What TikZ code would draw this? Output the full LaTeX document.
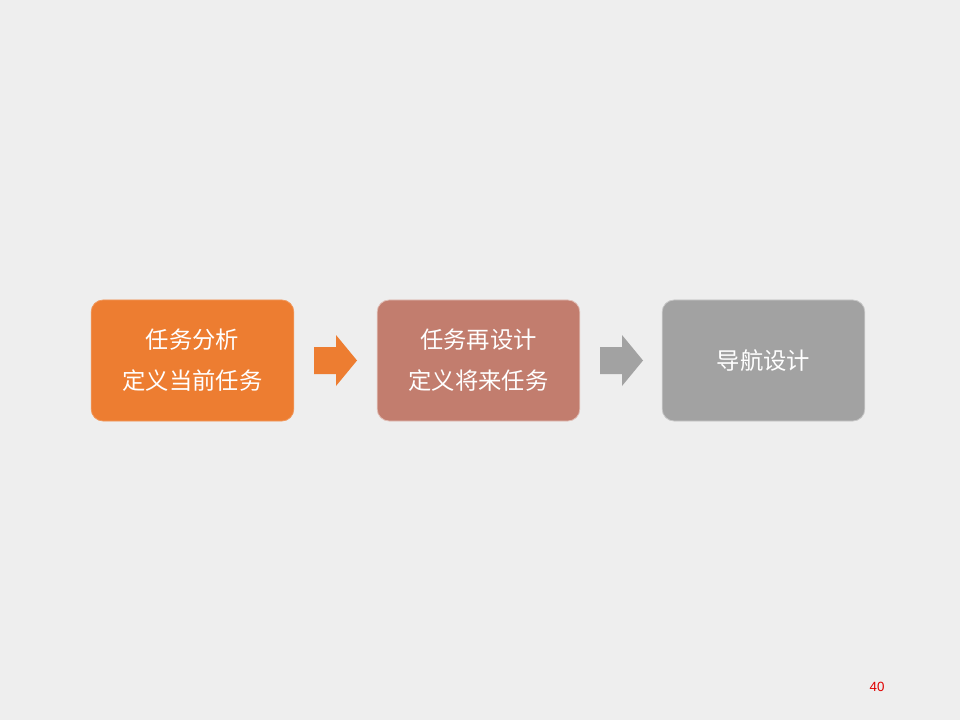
\documentclass[tikz,border=0pt]{standalone}
\usepackage{fontspec}
\newfontfamily\cjk{Noto Sans CJK SC}
\definecolor{bg}{HTML}{EEEEEE}
\definecolor{orangebox}{HTML}{ED7D31}
\definecolor{rosebox}{HTML}{C27D6E}
\definecolor{graybox}{HTML}{A2A2A2}
\definecolor{pagered}{HTML}{E00000}
\begin{document}
\begin{tikzpicture}[x=0.75pt,y=-0.75pt,
  stepbox/.style={rounded corners=9pt, minimum width=152pt, minimum height=90.75pt,
    inner sep=0pt, align=center, text=white, font=\cjk\fontsize{17.5}{30.75}\selectfont}]
\fill[bg] (0,0) rectangle (960,720);
\useasboundingbox (0,0) rectangle (960,720);
\node[stepbox, fill=orangebox, draw=orangebox!80!white, line width=0.6pt] (a) at (192.5,360.5) {任务分析\\定义当前任务};
\node[stepbox, fill=rosebox, draw=rosebox!50!white, line width=0.6pt] (b) at (478.5,360.5) {任务再设计\\定义将来任务};
\node[stepbox, fill=graybox, draw=graybox!60!white, line width=0.6pt] (c) at (763.5,360.5) {导航设计};
\fill[orangebox] (314,347) -- (336,347) -- (336,335) -- (357,360.5) -- (336,386) -- (336,374) -- (314,374) -- cycle;
\fill[graybox] (600,347) -- (622,347) -- (622,335) -- (643,360.5) -- (622,386) -- (622,374) -- (600,374) -- cycle;
\node[text=pagered, font=\fontspec{Liberation Sans}\fontsize{10}{12}\selectfont, inner sep=0pt] (p) at (877,687) {40};
\end{tikzpicture}
\end{document}
